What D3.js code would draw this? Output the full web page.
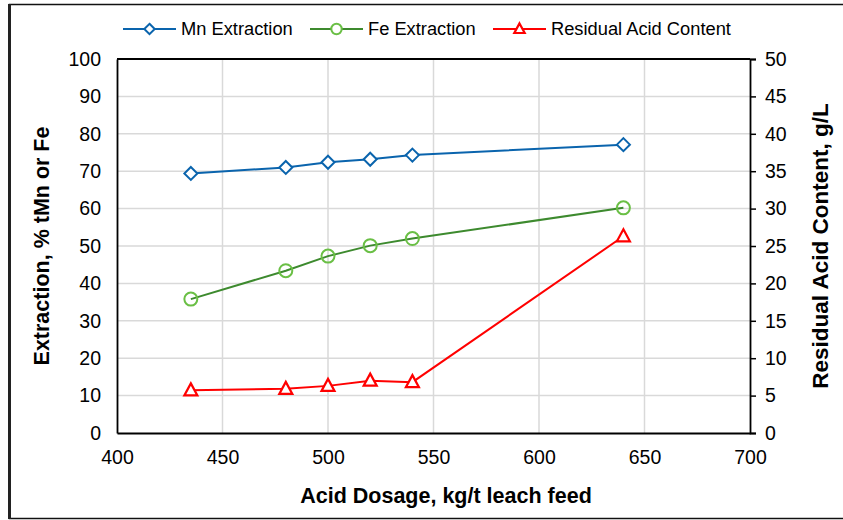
<!DOCTYPE html>
<html>
<head>
<meta charset="utf-8">
<script src="https://cdn.jsdelivr.net/npm/d3@7"></script>
<style>
  body { margin: 0; background: #fff; }
  text { font-family: "Liberation Sans", Arial, sans-serif; fill: #000; }
</style>
</head>
<body>
<svg id="chart" width="843" height="520"></svg>
<script>
// Data
const dosage = [435, 480, 500, 520, 540, 640];
const mnExtraction = [69.4, 71.0, 72.4, 73.2, 74.3, 77.1];
const feExtraction = [35.8, 43.4, 47.3, 50.1, 52.0, 60.2];
const residualAcid = [5.7, 5.9, 6.3, 7.0, 6.8, 26.3];

const xTicks = [400, 450, 500, 550, 600, 650, 700];
const leftTicks = [0, 10, 20, 30, 40, 50, 60, 70, 80, 90, 100];
const rightTicks = [0, 5, 10, 15, 20, 25, 30, 35, 40, 45, 50];

const svg = d3.select("#chart"),
      width = +svg.attr("width"),
      height = +svg.attr("height"),
      margin = { top: 59, right: 93, bottom: 87, left: 117 };

// outer frame
svg.append("rect")
  .attr("x", 9.5).attr("y", 4.5)
  .attr("width", 840).attr("height", 514)
  .attr("fill", "none").attr("stroke", "#111").attr("stroke-width", 1.5);
svg.append("line")
  .attr("x1", 9.5).attr("x2", 9.5).attr("y1", 4).attr("y2", 519)
  .attr("stroke", "#222").attr("stroke-width", 3);

const x = d3.scaleLinear()
  .domain([400, 700])
  .range([margin.left, width - margin.right]);

const yL = d3.scaleLinear()
  .domain([0, 100])
  .range([height - margin.bottom, margin.top]);

const yR = d3.scaleLinear()
  .domain([0, 50])
  .range([height - margin.bottom, margin.top]);

// Gridlines
svg.append("g")
  .selectAll("line.h")
  .data(leftTicks.slice(1))
  .enter().append("line")
  .attr("x1", margin.left).attr("x2", width - margin.right)
  .attr("y1", d => yL(d)).attr("y2", d => yL(d))
  .attr("stroke", "#d9d9d9").attr("stroke-width", 1.5);

svg.append("g")
  .selectAll("line.v")
  .data(xTicks.slice(1, -1))
  .enter().append("line")
  .attr("x1", d => x(d)).attr("x2", d => x(d))
  .attr("y1", margin.top).attr("y2", height - margin.bottom)
  .attr("stroke", "#d9d9d9").attr("stroke-width", 1.5);

// Axes
const tickFont = "19.5px";

const gx = svg.append("g")
  .attr("transform", `translate(0,${height - margin.bottom})`)
  .call(d3.axisBottom(x).tickValues(xTicks).tickSize(0).tickPadding(17));

const gl = svg.append("g")
  .attr("transform", `translate(${margin.left},0)`)
  .call(d3.axisLeft(yL).tickValues(leftTicks).tickSize(0).tickPadding(16));

const gr = svg.append("g")
  .attr("transform", `translate(${width - margin.right},0)`)
  .call(d3.axisRight(yR).tickValues(rightTicks).tickSize(6).tickPadding(9));

[gx, gl, gr].forEach(g => {
  g.select(".domain").attr("stroke", "#000").attr("stroke-width", 1.8);
  g.selectAll(".tick line").attr("stroke", "#000").attr("stroke-width", 1.5);
  g.selectAll("text")
    .style("font-family", "'Liberation Sans', Arial, sans-serif")
    .style("font-size", tickFont)
    .attr("fill", "#000");
});

// top border of plot
svg.append("line")
  .attr("x1", margin.left).attr("x2", width - margin.right)
  .attr("y1", margin.top).attr("y2", margin.top)
  .attr("stroke", "#000").attr("stroke-width", 1.8);

// Series
const series = [
  { name: "Mn Extraction", values: mnExtraction, y: yL, line: "#0a64ad", marker: "#0a64ad", symbol: "diamond" },
  { name: "Fe Extraction", values: feExtraction, y: yL, line: "#3d8a2e", marker: "#6abf45", symbol: "circle" },
  { name: "Residual Acid Content", values: residualAcid, y: yR, line: "#ff0000", marker: "#ff0000", symbol: "triangle" }
];

function drawMarker(g, s, cx, cy, k) {
  if (s.symbol === "diamond") {
    const r = 6.5 * k;
    g.append("path")
      .attr("d", `M${cx},${cy - r}L${cx + r},${cy}L${cx},${cy + r}L${cx - r},${cy}Z`)
      .attr("fill", "#fff").attr("stroke", s.marker).attr("stroke-width", 2);
  } else if (s.symbol === "circle") {
    g.append("circle")
      .attr("cx", cx).attr("cy", cy).attr("r", 6.5 * k)
      .attr("fill", k < 1 ? "#fff" : "none").attr("stroke", s.marker).attr("stroke-width", 2);
  } else {
    g.append("path")
      .attr("d", `M${cx},${cy - 7 * k}L${cx + 6.5 * k},${cy + 5 * k}L${cx - 6.5 * k},${cy + 5 * k}Z`)
      .attr("fill", "#fff").attr("stroke", s.marker).attr("stroke-width", 2.2);
  }
}

series.forEach(s => {
  const line = d3.line()
    .x((d, i) => x(dosage[i]))
    .y(d => s.y(d));
  svg.append("path")
    .datum(s.values)
    .attr("d", line)
    .attr("fill", "none")
    .attr("stroke", s.line)
    .attr("stroke-width", 2);
  const g = svg.append("g");
  s.values.forEach((v, i) => drawMarker(g, s, x(dosage[i]), s.y(v), 1));
});

// Legend
const legendX = [123, 310, 493];
series.forEach((s, i) => {
  const lx = legendX[i], ly = 29;
  const g = svg.append("g");
  g.append("line")
    .attr("x1", lx).attr("x2", lx + 53)
    .attr("y1", ly).attr("y2", ly)
    .attr("stroke", s.line).attr("stroke-width", 2);
  drawMarker(g, s, lx + 26.5, ly, 0.8);
  g.append("text")
    .attr("x", lx + 58).attr("y", ly)
    .attr("dy", "0.35em")
    .style("font-size", "18.3px")
    .text(s.name);
});

// Axis titles
const titleFont = "21.5px";

svg.append("text")
  .attr("x", 446)
  .attr("y", 503)
  .attr("text-anchor", "middle")
  .style("font-size", titleFont)
  .style("font-weight", "bold")
  .text("Acid Dosage, kg/t leach feed");

svg.append("text")
  .attr("transform", "rotate(-90)")
  .attr("x", -(margin.top + height - margin.bottom) / 2)
  .attr("y", 49)
  .attr("text-anchor", "middle")
  .style("font-size", titleFont)
  .style("font-weight", "bold")
  .text("Extraction, % tMn or Fe");

svg.append("text")
  .attr("transform", "rotate(-90)")
  .attr("x", -(margin.top + height - margin.bottom) / 2)
  .attr("y", 828)
  .attr("text-anchor", "middle")
  .style("font-size", "22.5px")
  .style("font-weight", "bold")
  .text("Residual Acid Content, g/L");
</script>
</body>
</html>
